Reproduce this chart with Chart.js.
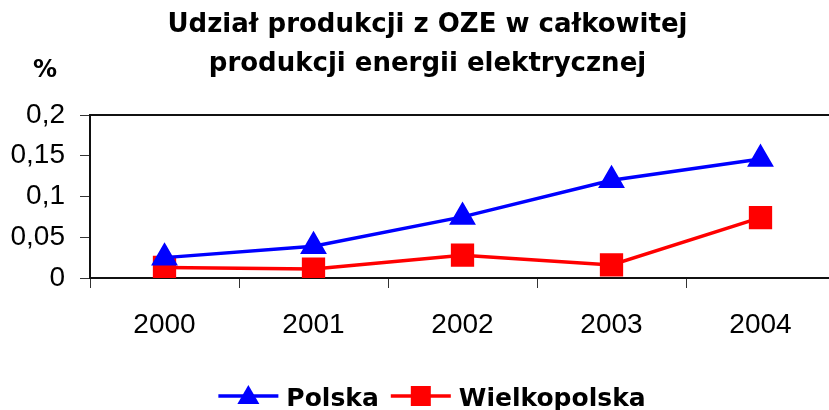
<script src="https://cdn.jsdelivr.net/npm/chart.js"></script>
<style>
    html, body {
        margin: 0;
        padding: 0;
        overflow: hidden;
        background: #fff;
    }
    .chart-container {
        width: 864px;
        height: 410px;
    }
</style>
<div class="chart-container">
    <canvas id="ozeChart"></canvas>
</div>

<script>
    // data
    var years = ['2000', '2001', '2002', '2003', '2004'];
    var polska = [0.025, 0.039, 0.075, 0.12, 0.146];
    var wielkopolska = [0.013, 0.011, 0.028, 0.016, 0.074];
    var yTicks = [0, 0.05, 0.1, 0.15, 0.2];
    var titleLines = ['Udział produkcji z OZE w całkowitej', 'produkcji energii elektrycznej'];
    var unitLabel = '%';

    Chart.defaults.font.family = "'Liberation Sans', Arial, sans-serif";
    Chart.defaults.color = '#000';

    // frame around the plot area (top and right edge)
    var plotFrame = {
        id: 'plotFrame',
        beforeDatasetsDraw: function(chart) {
            var a = chart.chartArea;
            var ctx = chart.ctx;
            ctx.save();
            ctx.strokeStyle = '#111';
            ctx.lineWidth = 2;
            ctx.strokeRect(a.left, a.top, a.right - a.left, a.bottom - a.top);
            ctx.restore();
        }
    };

    // "%" unit label and the legend with line + marker samples
    var extras = {
        id: 'extras',
        afterDraw: function(chart) {
            var ctx = chart.ctx;
            ctx.save();
            ctx.fillStyle = '#000';
            ctx.font = "bold 24px 'DejaVu Sans'";
            ctx.textBaseline = 'alphabetic';
            ctx.fillText(unitLabel, 33, 77);

            ctx.font = "bold 25px 'DejaVu Sans'";
            var items = chart.data.datasets;
            var lineW = 60, gapText = 8, gapItem = 12;
            var total = 0;
            items.forEach(function(ds, i) {
                total += lineW + gapText + ctx.measureText(ds.label).width;
                if (i > 0) total += gapItem;
            });
            var x = chart.width / 2 - total / 2;
            var yLine = 396;
            items.forEach(function(ds) {
                ctx.strokeStyle = ds.borderColor;
                ctx.lineWidth = ds.borderWidth;
                ctx.beginPath();
                ctx.moveTo(x, yLine);
                ctx.lineTo(x + lineW, yLine);
                ctx.stroke();
                var cx = x + lineW / 2;
                ctx.fillStyle = ds.pointBackgroundColor;
                ctx.beginPath();
                if (ds.pointStyle === 'triangle') {
                    ctx.moveTo(cx, yLine - 11);
                    ctx.lineTo(cx + 11, yLine + 8);
                    ctx.lineTo(cx - 11, yLine + 8);
                    ctx.closePath();
                } else {
                    ctx.rect(cx - 10, yLine - 10, 20, 20);
                }
                ctx.fill();
                ctx.fillStyle = '#000';
                ctx.fillText(ds.label, x + lineW + gapText, 406);
                x += lineW + gapText + ctx.measureText(ds.label).width + gapItem;
            });
            ctx.restore();
        }
    };

    function fmt(v) {
        return String(+v.toFixed(2)).replace('.', ',');
    }

    var ctx = document.getElementById('ozeChart').getContext('2d');
    window.ozeChart = new Chart(ctx, {
        type: 'line',
        data: {
            labels: years,
            datasets: [{
                label: 'Polska',
                data: polska,
                borderColor: '#0000ff',
                backgroundColor: '#0000ff',
                pointBackgroundColor: '#0000ff',
                pointBorderColor: '#0000ff',
                borderWidth: 3.5,
                pointStyle: 'triangle',
                pointRadius: 12,
                fill: false,
                tension: 0
            }, {
                label: 'Wielkopolska',
                data: wielkopolska,
                borderColor: '#ff0000',
                backgroundColor: '#ff0000',
                pointBackgroundColor: '#ff0000',
                pointBorderColor: '#ff0000',
                borderWidth: 3.5,
                pointStyle: 'rect',
                pointRadius: 14,
                fill: false,
                tension: 0
            }]
        },
        options: {
            responsive: true,
            maintainAspectRatio: false,
            animation: false,
            layout: {
                padding: { left: 0, right: 9, top: 0, bottom: 71 }
            },
            plugins: {
                legend: { display: false },
                tooltip: { enabled: false },
                title: {
                    display: true,
                    text: titleLines,
                    color: '#000',
                    font: { family: "'DejaVu Sans'", size: 26, weight: 'bold', lineHeight: 1.5 },
                    padding: { top: 6, bottom: 31 }
                }
            },
            scales: {
                x: {
                    offset: true,
                    afterFit: function(scale) { scale.height = 61; },
                    border: { display: true, color: '#111', width: 2 },
                    grid: { display: true, drawOnChartArea: false, drawTicks: true, tickLength: 10, color: '#333', offset: true },
                    ticks: { font: { size: 28 }, color: '#000', padding: 20, maxRotation: 0 }
                },
                y: {
                    min: 0,
                    max: 0.2,
                    afterFit: function(scale) { scale.width = 90; },
                    afterBuildTicks: function(scale) {
                        scale.ticks = yTicks.map(function(v) { return { value: v }; });
                    },
                    border: { display: true, color: '#111', width: 2 },
                    grid: { display: true, drawOnChartArea: false, drawTicks: true, tickLength: 10, color: '#333' },
                    ticks: {
                        font: { size: 28 },
                        color: '#000',
                        padding: 15,
                        callback: function(v) { return fmt(v); }
                    }
                },
                // empty spacer on the right, keeps the title centred like the original
                spacer: {
                    type: 'linear',
                    position: 'right',
                    display: true,
                    afterFit: function(scale) { scale.width = 20; },
                    border: { display: false },
                    grid: { display: false },
                    ticks: { display: false }
                }
            }
        },
        plugins: [plotFrame, extras]
    });
</script>
